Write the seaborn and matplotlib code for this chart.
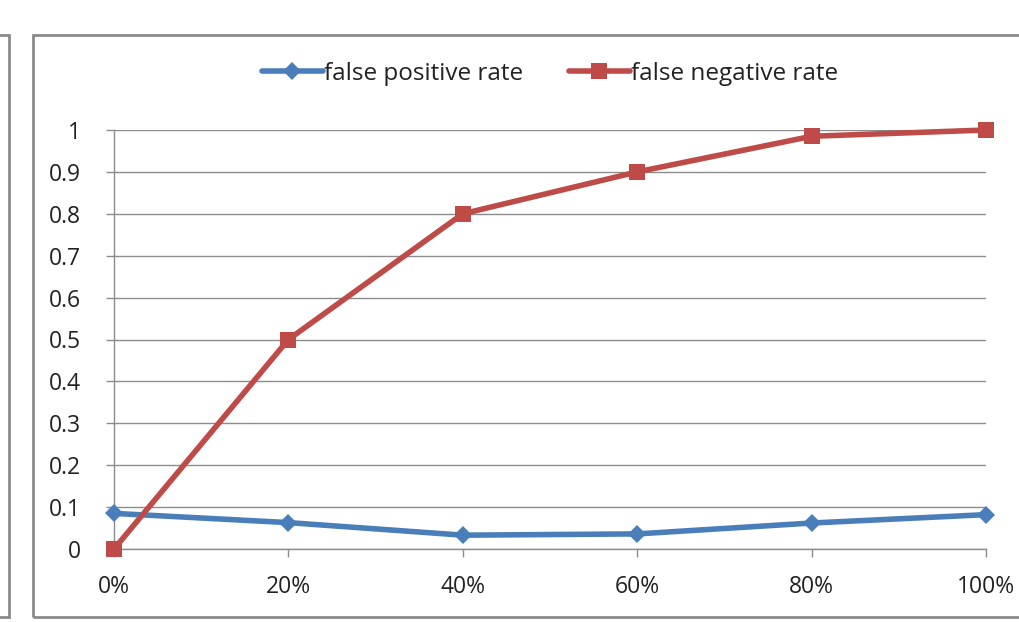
import matplotlib
matplotlib.use("Agg")
import matplotlib.pyplot as plt
from matplotlib.patches import Rectangle
import seaborn as sns
import pandas as pd

categories = ["0%", "20%", "40%", "60%", "80%", "100%"]
false_positive_rate = [0.085, 0.063, 0.033, 0.036, 0.062, 0.082]
false_negative_rate = [0.0, 0.5, 0.8, 0.9, 0.985, 1.0]
y_ticks = [0, 0.1, 0.2, 0.3, 0.4, 0.5, 0.6, 0.7, 0.8, 0.9, 1]
y_tick_labels = ["0", "0.1", "0.2", "0.3", "0.4", "0.5", "0.6", "0.7", "0.8", "0.9", "1"]

sns.set_theme(style="white")
plt.rcParams["font.family"] = ["Open Sans", "DejaVu Sans"]

W, H = 1019, 622
fig = plt.figure(figsize=(W / 100, H / 100), dpi=100)
ax = fig.add_axes([114 / W, 1 - 549 / H, (986 - 114) / W, (549 - 130) / H])

pos = list(range(len(categories)))
df = pd.DataFrame({
    "pos": pos * 2,
    "value": false_positive_rate + false_negative_rate,
    "series": ["false positive rate"] * len(pos) + ["false negative rate"] * len(pos),
})

palette = {"false positive rate": "#4a7ebb", "false negative rate": "#be4b48"}
markers = {"false positive rate": "D", "false negative rate": "s"}
sizes = {"false positive rate": 9, "false negative rate": 11}

for name in ["false positive rate", "false negative rate"]:
    sub = df[df["series"] == name]
    sns.lineplot(data=sub, x="pos", y="value", ax=ax, color=palette[name],
                 linewidth=4, marker=markers[name], markersize=sizes[name],
                 markeredgewidth=0, label=name, clip_on=False, zorder=3)

FS = 16.5
ax.set_xlim(0, len(categories) - 1)
ax.set_ylim(0, 1)
ax.set_xticks(pos)
ax.set_xticklabels(categories, fontsize=FS, color="#222222")
ax.set_yticks(y_ticks)
ax.set_yticklabels(y_tick_labels, fontsize=FS, color="#222222")
ax.set_xlabel("")
ax.set_ylabel("")

ax.yaxis.grid(True, color="#8c8c8c", linewidth=1)
ax.xaxis.grid(False)
ax.set_axisbelow(True)
for side in ["top", "right"]:
    ax.spines[side].set_visible(False)
for side in ["left", "bottom"]:
    ax.spines[side].set_color("#8c8c8c")
    ax.spines[side].set_linewidth(1)
ax.tick_params(axis="x", which="both", direction="out", length=6, width=1,
               color="#8c8c8c", bottom=True, pad=13)
ax.tick_params(axis="y", which="both", direction="out", length=6, width=1,
               color="#8c8c8c", left=True, pad=18)

leg = ax.legend(loc="center", bbox_to_anchor=(0.5, 1 + (130 - 74) / 419), ncol=2,
                frameon=False, fontsize=17.5, handlelength=2.5, handletextpad=0.05,
                columnspacing=1.9, borderaxespad=0)
for t in leg.get_texts():
    t.set_color("#222222")

# chart frame and the edge of the neighbouring chart
fig.patches.append(Rectangle((33 / W, 1 - 617 / H), (1030 - 33) / W, (617 - 35) / H,
                             transform=fig.transFigure, fill=False,
                             edgecolor="#8a8a8a", linewidth=2))
fig.patches.append(Rectangle((-20 / W, 1 - 617 / H), (9 + 20) / W, (617 - 35) / H,
                             transform=fig.transFigure, fill=False,
                             edgecolor="#8a8a8a", linewidth=2))

fig.savefig("out.png", dpi=100)
